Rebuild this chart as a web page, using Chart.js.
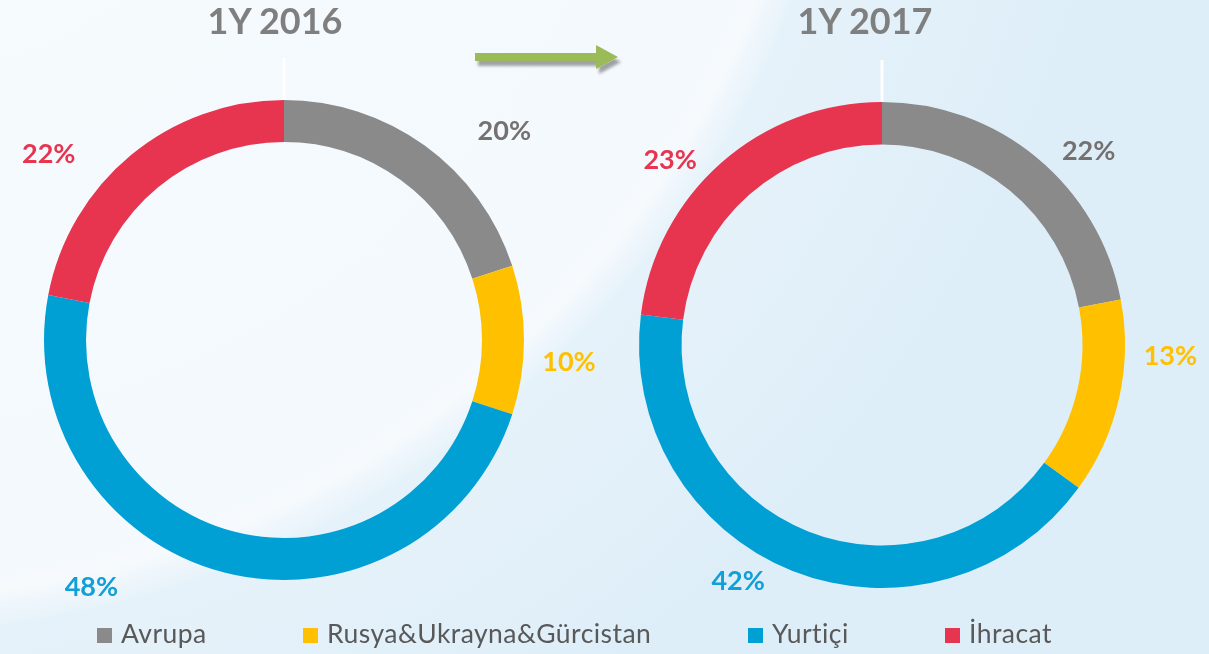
<!DOCTYPE html>
<html lang="tr">
<head>
<meta charset="utf-8">
<title>Bölgesel dağılım</title>
<script src="https://cdn.jsdelivr.net/npm/chart.js@4/dist/chart.umd.min.js"></script>
<style>
  html, body { margin: 0; padding: 0; }
  body {
    width: 1209px; height: 654px; overflow: hidden; position: relative;
    font-family: Lato, "Noto Sans", sans-serif;
    background:
      radial-gradient(circle 960px at -127px -351px,
        #f6fbfe 0, #f4f9fd 925px, #f6fafd 948px, #e6f2fa 985px, #deeef8 1250px);
  }
  .wrap { position: absolute; top: 0; }
  .title {
    position: absolute; top: 2px; width: 300px; text-align: center;
    font: bold 36px/36px Lato, sans-serif; color: #7f7f7f;
  }
  .legend-item {
    position: absolute; top: 620px; height: 26px;
    font: 26.5px/26px Lato, sans-serif; letter-spacing: 0.45px;
    color: #595959; white-space: nowrap;
  }
  .legend-item span.box {
    position: absolute; left: 0; top: 8px; width: 15px; height: 15px;
  }
  .legend-item span.text { position: absolute; left: 24px; top: 0; }
  #arrow { position: absolute; left: 0; top: 0; }
</style>
</head>
<body>
<div class="wrap" style="left:0"><canvas id="chart2016" width="600" height="654"></canvas></div>
<div class="wrap" style="left:600px"><canvas id="chart2017" width="609" height="654"></canvas></div>

<div class="title" id="title2016" style="left:125px"></div>
<div class="title" id="title2017" style="left:715px"></div>

<svg id="arrow" width="700" height="100">
  <defs>
    <filter id="shadow" x="-10%" y="-60%" width="130%" height="260%">
      <feDropShadow dx="3" dy="5" stdDeviation="1.5" flood-color="#000" flood-opacity="0.35"/>
    </filter>
  </defs>
  <path d="M475 53 H596 V45 L618 57 L596 69 V61 H475 Z" fill="#9bbb59" filter="url(#shadow)"/>
</svg>

<div id="legend"></div>

<script>
// 地域別の構成比（%）
const categories = ['Avrupa', 'Rusya&Ukrayna&Gürcistan', 'Yurtiçi', 'İhracat'];
const share2016 = [20, 10, 48, 22];
const share2017 = [22, 13, 42, 23];
const chartTitles = ['1Y 2016', '1Y 2017'];

// 色設定
const sliceColors = ['#8a8a8a', '#ffc000', '#009fd4', '#e7344f'];
const labelColors = ['#767171', '#ffc000', '#129fd6', '#e7344f'];

// 凡例の横位置
const legendX = [97, 303, 748, 945];

// リングの上の白い線と、外側のパーセント表示を描くプラグイン
const ringLabels = {
    id: 'ringLabels',
    beforeDatasetsDraw(chart) {
        const arc = chart.getDatasetMeta(0).data[0];
        const p = arc.getProps(['x', 'y', 'outerRadius'], true);
        const ctx = chart.ctx;
        ctx.save();
        ctx.strokeStyle = '#ffffff';
        ctx.lineWidth = 3;
        ctx.beginPath();
        ctx.moveTo(p.x, p.y - p.outerRadius - 42);
        ctx.lineTo(p.x, p.y - p.outerRadius);
        ctx.stroke();
        ctx.restore();
    },
    afterDatasetsDraw(chart, args, opts) {
        const ctx = chart.ctx;
        const values = chart.data.datasets[0].data;
        ctx.save();
        ctx.font = 'bold 27px Lato, sans-serif';
        ctx.textAlign = 'center';
        ctx.textBaseline = 'middle';
        chart.getDatasetMeta(0).data.forEach((arc, i) => {
            const p = arc.getProps(['x', 'y', 'startAngle', 'endAngle', 'outerRadius'], true);
            const mid = (p.startAngle + p.endAngle) / 2;
            const r = p.outerRadius * 1.25;
            const [dx, dy] = opts.nudge[i];
            ctx.fillStyle = labelColors[i];
            ctx.fillText(values[i] + '%', p.x + Math.cos(mid) * r + dx, p.y + Math.sin(mid) * r + dy);
        });
        ctx.restore();
    }
};

function makeDoughnut(canvasId, values, radius, padding, nudge) {
    const ctx = document.getElementById(canvasId).getContext('2d');
    return new Chart(ctx, {
        type: 'doughnut',
        data: {
            labels: categories,
            datasets: [{
                data: values,
                backgroundColor: sliceColors,
                borderWidth: 0
            }]
        },
        options: {
            responsive: false,
            animation: false,
            radius: radius,
            cutout: '82.5%',
            layout: { padding: padding },
            plugins: {
                legend: { display: false },
                tooltip: { enabled: false },
                ringLabels: { nudge: nudge }
            }
        },
        plugins: [ringLabels]
    });
}

makeDoughnut('chart2016', share2016, 240,
    { left: 0, right: 32, top: 26, bottom: 0 },
    [[44, 34], [-15, 22], [-118, -43], [-44, 45]]);

makeDoughnut('chart2017', share2017, 243,
    { left: 0, right: 45, top: 36, bottom: 0 },
    [[13, 40], [-8, -55], [-32, -46], [-11, 43]]);

// タイトル
document.getElementById('title2016').textContent = chartTitles[0];
document.getElementById('title2017').textContent = chartTitles[1];

// 凡例を組み立てる
const legend = document.getElementById('legend');
categories.forEach((name, i) => {
    const item = document.createElement('div');
    item.className = 'legend-item';
    item.style.left = legendX[i] + 'px';
    const box = document.createElement('span');
    box.className = 'box';
    box.style.background = sliceColors[i];
    const text = document.createElement('span');
    text.className = 'text';
    text.textContent = name;
    item.appendChild(box);
    item.appendChild(text);
    legend.appendChild(item);
});
</script>
</body>
</html>
